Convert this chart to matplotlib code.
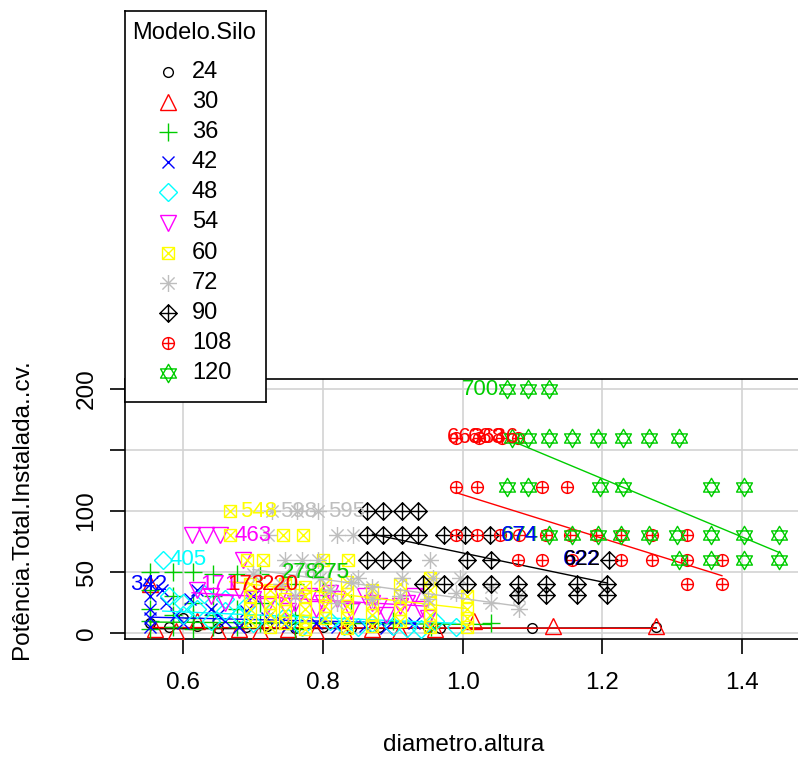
import numpy as np
import matplotlib
matplotlib.use("Agg")
import matplotlib.pyplot as plt
from matplotlib.path import Path

plt.rcParams['font.family'] = ['Liberation Sans', 'DejaVu Sans']

W, H = 798, 758

# ---- dados ----
grupos = ["24", "30", "36", "42", "48", "54", "60", "72", "90", "108", "120"]
cores = ["black", "#FF0000", "#00CD00", "#0000FF", "#00FFFF", "#FF00FF",
         "#FFFF00", "#BEBEBE", "black", "#FF0000", "#00CD00"]

x24 = [0.553, 0.58, 0.60, 0.62, 0.65, 0.69, 0.72, 0.76, 0.80, 0.84, 0.88, 0.95, 0.967, 1.10, 1.277]
y24 = [8, 5, 12, 6, 4, 5, 6, 4, 5, 4, 5, 5, 4, 4, 5]

x30 = [0.553, 0.56, 0.59, 0.62, 0.65, 0.68, 0.71, 0.75, 0.79, 0.83, 0.87, 0.91, 0.96, 1.017, 1.129, 1.277]
y30 = [40, 3, 2, 10, 2, 3, 2, 3, 2, 2, 3, 2, 3, 10, 6, 6]

x36 = [0.553, 0.553, 0.553, 0.553, 0.553, 0.586, 0.586, 0.586, 0.586,
       0.614, 0.614, 0.614, 0.614, 0.643, 0.643, 0.643, 0.643,
       0.677, 0.677, 0.677, 0.71, 0.71, 0.71, 0.76, 0.76, 0.76,
       0.80, 0.84, 0.90, 0.955, 1.04]
y36 = [50, 35, 20, 10, 3, 50, 30, 15, 5, 50, 25, 12, 3, 48, 30, 15, 5,
       48, 20, 5, 48, 25, 8, 40, 15, 3, 35, 25, 10, 5, 8]

x42 = [0.553, 0.553, 0.553, 0.553, 0.553, 0.575, 0.59, 0.60, 0.62, 0.64,
       0.66, 0.68, 0.70, 0.72, 0.75, 0.79, 0.82, 0.86, 0.89, 0.93,
       0.57, 0.61, 0.65, 0.69, 0.74]
y42 = [40, 30, 20, 12, 5, 25, 15, 8, 35, 20, 10, 5, 30, 12, 6, 8, 5, 6, 4, 8,
       35, 28, 15, 18, 10]

x48 = [0.571, 0.58, 0.60, 0.60, 0.62, 0.64, 0.66, 0.68, 0.70, 0.73, 0.77,
       0.81, 0.85, 0.87, 0.92, 0.96, 0.99,
       0.63, 0.66, 0.69, 0.75, 0.83, 0.90, 0.94]
y48 = [60, 30, 25, 15, 20, 10, 28, 15, 8, 20, 5, 10, 5, 8, 4, 10, 5,
       32, 18, 22, 12, 6, 6, 3]

x54 = [0.613, 0.633, 0.653, 0.686, 0.62, 0.64, 0.66, 0.68, 0.70, 0.72,
       0.74, 0.76, 0.79, 0.82, 0.84, 0.87, 0.89, 0.91, 0.93, 0.95,
       0.75, 0.78, 0.80, 0.81, 0.86, 0.88, 0.92, 0.94]
y54 = [80, 80, 80, 60, 35, 30, 25, 35, 28, 22, 32, 25, 20, 28, 18, 25, 15, 22, 30, 12,
       18, 30, 25, 33, 30, 22, 25, 20]

x60 = [0.667, 0.667, 0.743, 0.771, 0.691, 0.714, 0.80, 0.836,
       0.696, 0.696, 0.696, 0.696, 0.724, 0.724, 0.724, 0.724,
       0.746, 0.746, 0.746, 0.746, 0.774, 0.774, 0.774, 0.774, 0.774,
       0.803, 0.803, 0.803, 0.803, 0.834, 0.834, 0.834, 0.834, 0.834,
       0.87, 0.87, 0.87, 0.87, 0.91, 0.91, 0.91, 0.91,
       0.953, 0.953, 0.953, 0.953, 0.953, 1.006, 1.006, 1.006, 1.006]
y60 = [100, 80, 80, 80, 60, 60, 60, 60,
       40, 30, 20, 10, 35, 25, 15, 5,
       40, 28, 18, 8, 38, 30, 20, 10, 3,
       40, 30, 22, 12, 42, 32, 22, 12, 4,
       35, 25, 15, 6, 40, 30, 20, 10,
       45, 35, 25, 15, 5, 30, 20, 12, 5]

x72 = [0.727, 0.763, 0.793, 0.721, 0.821, 0.843, 0.746, 0.77, 0.793, 0.953, 0.70,
       0.796, 0.85, 0.914, 0.957, 0.996,
       0.74, 0.76, 0.81, 0.82, 0.84, 0.87, 0.87, 0.91, 0.95,
       0.99, 1.04, 1.04, 1.08, 1.08]
y72 = [100, 100, 100, 80, 80, 80, 60, 60, 60, 60, 48,
       45, 45, 45, 45, 45,
       40, 30, 35, 25, 42, 38, 28, 30, 28,
       33, 38, 25, 30, 20]

x90 = [0.863, 0.886, 0.913, 0.936,
       0.863, 0.886, 0.913, 0.936, 0.974, 1.003, 1.039,
       0.863, 0.886, 0.913, 1.006, 1.041, 1.21,
       0.943, 0.974, 1.006, 1.041, 1.079, 1.12, 1.163, 1.207,
       1.079, 1.12, 1.163, 1.207]
y90 = [100, 100, 100, 100,
       80, 80, 80, 80, 80, 80, 80,
       60, 60, 60, 60, 60, 60,
       40, 40, 40, 40, 40, 40, 40, 40,
       31, 31, 31, 31]

x108 = [0.991, 1.024, 1.057, 1.079,
        0.991, 1.02, 1.114, 1.15,
        0.991, 1.02, 1.053, 1.081, 1.12, 1.153, 1.191, 1.227, 1.271, 1.321,
        1.079, 1.114, 1.157, 1.227, 1.271, 1.321, 1.371,
        1.321, 1.371]
y108 = [160, 160, 160, 160,
        120, 120, 120, 120,
        80, 80, 80, 80, 80, 80, 80, 80, 80, 80,
        60, 60, 60, 60, 60, 60, 60,
        40, 40]

x120 = [1.064, 1.093, 1.124,
        1.07, 1.093, 1.124, 1.157, 1.193, 1.229, 1.267, 1.31,
        1.064, 1.093, 1.196, 1.229, 1.356, 1.403,
        1.124, 1.157, 1.193, 1.227, 1.267, 1.307, 1.356, 1.403, 1.453,
        1.31, 1.356, 1.403, 1.453]
y120 = [200, 200, 200,
        160, 160, 160, 160, 160, 160, 160, 160,
        120, 120, 120, 120, 120, 120,
        80, 80, 80, 80, 80, 80, 80, 80, 80,
        60, 60, 60, 60]

xs = [x24, x30, x36, x42, x48, x54, x60, x72, x90, x108, x120]
ys = [y24, y30, y36, y42, y48, y54, y60, y72, y90, y108, y120]

# retas de ajuste por grupo: (x0, y0, x1, y1)
retas = [(0.553, 3.5, 1.277, 4.2), (0.553, 4.5, 1.277, 3.8), (0.553, 9, 1.04, 7),
         (0.553, 13, 0.93, 8), (0.571, 18, 0.99, 8), (0.613, 33, 0.95, 22),
         (0.667, 42, 1.006, 20), (0.70, 52, 1.08, 22), (0.871, 81, 1.207, 41),
         (0.991, 115, 1.371, 47), (1.064, 159, 1.453, 66)]

# rotulos dos pontos identificados: (texto, x, y, cor, alinhamento)
rotulos = [("700", 1.052, 200, "#00CD00", "right"),
           ("663", 1.031, 160, "#FF0000", "right"),
           ("688", 1.060, 160, "#FF0000", "right"),
           ("636", 1.081, 160, "#FF0000", "right"),
           ("674", 1.110, 80, "#00CD00", "right"),
           ("674", 1.108, 80, "#0000FF", "right"),
           ("622", 1.196, 60, "#0000FF", "right"),
           ("622", 1.198, 60, "black", "right"),
           ("342", 0.524, 40, "#0000FF", "left"),
           ("405", 0.581, 60, "#00FFFF", "left"),
           ("463", 0.674, 80, "#FF00FF", "left"),
           ("548", 0.681, 100, "#FFFF00", "left"),
           ("598", 0.739, 100, "#BEBEBE", "left"),
           ("595", 0.807, 100, "#BEBEBE", "left"),
           ("278", 0.739, 50, "#BEBEBE", "left"),
           ("278", 0.741, 50, "#00CD00", "left"),
           ("275", 0.784, 50, "#BEBEBE", "left"),
           ("275", 0.786, 50, "#00CD00", "left"),
           ("171", 0.624, 40, "#FF00FF", "left"),
           ("173", 0.664, 40, "#FF0000", "left"),
           ("220", 0.713, 40, "#FF0000", "left")]


# ---- simbolos estilo pch do R ----
def seg(a, b):
    return Path([a, b], [Path.MOVETO, Path.LINETO])


def poly(pts):
    return Path(pts + [pts[0]], [Path.MOVETO] + [Path.LINETO] * (len(pts) - 1) + [Path.CLOSEPOLY])


cruz = Path.make_compound_path(seg((-1, 0), (1, 0)), seg((0, -1), (0, 1)))
xis = Path.make_compound_path(seg((-1, -1), (1, 1)), seg((-1, 1), (1, -1)))
xis_p = Path.make_compound_path(seg((-0.72, -0.72), (0.72, 0.72)), seg((-0.72, 0.72), (0.72, -0.72)))
quad = poly([(-1, -1), (1, -1), (1, 1), (-1, 1)])
losango = poly([(0, 1), (1, 0), (0, -1), (-1, 0)])
pch7 = Path.make_compound_path(quad, xis)
pch8 = Path.make_compound_path(cruz, xis_p)
pch9 = Path.make_compound_path(losango, cruz)
pch10 = Path.make_compound_path(Path.unit_circle(), cruz)
pch11 = Path.make_compound_path(poly([(0, 1), (-0.866, -0.5), (0.866, -0.5)]),
                                poly([(0, -1), (-0.866, 0.5), (0.866, 0.5)]))

marcadores = ["o", "^", "+", "x", "D", "v", pch7, pch8, pch9, pch10, pch11]
tamanhos = [7, 12, 13, 8.5, 8.7, 12, 8.6, 12.2, 12.5, 8.5, 13.2]

fig = plt.figure(figsize=(W / 100, H / 100), dpi=100)
ax = fig.add_axes([125 / W, 1 - 639 / H, 678 / W, 260 / H])

for i in range(len(grupos)):
    ax.plot(xs[i], ys[i], ls="none", marker=marcadores[i], ms=tamanhos[i],
            mec=cores[i], mfc="none", mew=1.0, zorder=3)
    x0, y0, x1, y1 = retas[i]
    ax.plot([x0, x1], [y0, y1], color=cores[i], lw=1.0, zorder=3)

for txt, tx, ty, cor, al in rotulos:
    ax.text(tx, ty, txt, color=cor, ha=al, va="center", fontsize=16, zorder=4)

ax.set_xlim(0.517, 1.487)
ax.set_ylim(-4.9, 208.2)
ax.set_xticks([0.6, 0.8, 1.0, 1.2, 1.4])
ax.set_xticklabels(["0.6", "0.8", "1.0", "1.2", "1.4"])
ax.set_yticks([0, 50, 100, 150, 200])
ax.set_yticklabels(["0", "50", "100", "", "200"])
ax.grid(color="#D3D3D3", lw=1.2)
ax.set_axisbelow(True)
for s in ax.spines.values():
    s.set_linewidth(1.2)
ax.tick_params(direction="out", length=10.8, width=1.2, labelsize=17.5)
ax.tick_params(axis="x", pad=13)
ax.tick_params(axis="y", pad=9)
for lb in ax.get_yticklabels():
    lb.set_rotation(90)
    lb.set_va("center")

fig.text(22 / W, 1 - 509 / H, "Potência.Total.Instalada..cv.", rotation=90,
         ha="center", va="center", fontsize=17.5)
fig.text(464 / W, 1 - 745 / H, "diametro.altura", ha="center", va="center", fontsize=17.5)

# ---- legenda ----
lax = fig.add_axes([125 / W, 1 - 402 / H, 141 / W, 391 / H], zorder=5)
lax.set_xlim(0, 141)
lax.set_ylim(391, 0)
lax.set_xticks([])
lax.set_yticks([])
lax.set_facecolor("white")
for s in lax.spines.values():
    s.set_linewidth(1.2)
lax.text(69.5, 22, "Modelo.Silo", ha="center", va="center", fontsize=17)
for i in range(len(grupos)):
    yy = 61 + 30.1 * i
    lax.plot([43], [yy], ls="none", marker=marcadores[i], ms=tamanhos[i],
             mec=cores[i], mfc="none", mew=1.0)
    lax.text(67, yy, grupos[i], ha="left", va="center", fontsize=17)

fig.savefig("out.png", dpi=100)
